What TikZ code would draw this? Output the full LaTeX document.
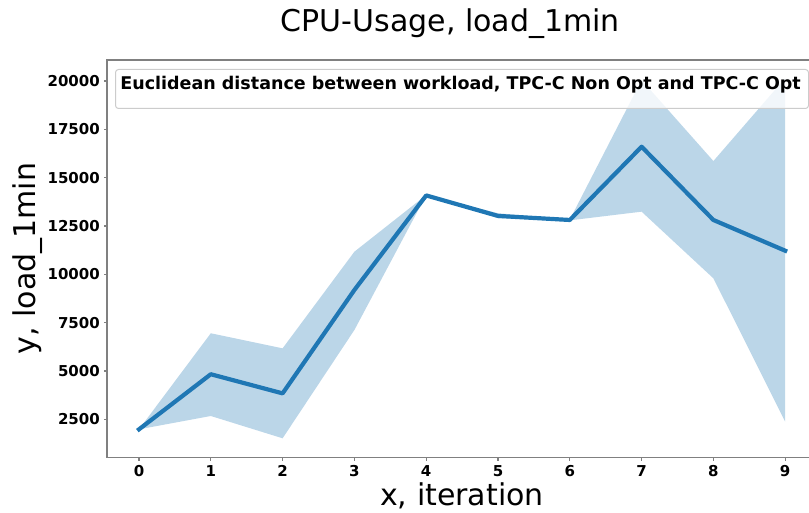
\documentclass[tikz,border=0pt]{standalone}
\usepackage{fontspec}
\setmainfont{DejaVu Sans}
\definecolor{mplblue}{HTML}{1F77B4}
\definecolor{spinegray}{HTML}{808080}
\definecolor{legedge}{HTML}{CCCCCC}
\begin{document}
\begin{tikzpicture}[x=1pt,y=-1pt,
  ticklab/.style={font=\fontsize{15}{15}\selectfont\bfseries, inner sep=0pt, text=black},
  axlab/.style={font=\fontsize{30}{30}\selectfont, inner sep=0pt, text=black},
  legtitle/.style={font=\fontsize{17.5}{17.5}\selectfont\bfseries, inner sep=0pt, text=black},
  spine/.style={draw=spinegray, line width=1.2pt},
  tickmark/.style={draw=spinegray, line width=1.1pt},
  band/.style={fill=mplblue, fill opacity=0.3},
  meanline/.style={draw=mplblue, line width=4.2pt, line join=round, line cap=rect},
  legbox/.style={draw=legedge, line width=1pt, fill=white, fill opacity=0.8, rounded corners=3pt}]
\useasboundingbox (0,0) rectangle (809,513);

% title
\node[axlab, anchor=base] (title) at (450.3,32) {CPU-Usage, load\_1min};

% data
\begin{scope}
  \clip (107,60) rectangle (809,457.3);
  \begin{scope}[shift={(139,467.6)}, x=71.8pt, y=19.33pt]
    \fill[band] (0,1.98) -- (1,6.95) -- (2,6.17) -- (3,11.17) -- (4,14.1) -- (5,13.16)
      -- (6,12.83) -- (7,20.05) -- (8,15.86) -- (9,20.15) -- (9,2.375) -- (8,9.79)
      -- (7,13.24) -- (6,12.79) -- (5,12.90) -- (4,14.1) -- (3,7.12) -- (2,1.516)
      -- (1,2.67) -- cycle;
    \draw[meanline] (0,1.98) -- (1,4.83) -- (2,3.84) -- (3,9.19) -- (4,14.08)
      -- (5,13.02) -- (6,12.81) -- (7,16.60) -- (8,12.81) -- (9,11.22);
  \end{scope}
\end{scope}

% spines
\coordinate (tl) at (107,60);
\coordinate (bl) at (107,457.3);
\coordinate (tr) at (809,60);
\coordinate (br) at (809,457.3);
\draw[spine] (tr) -- (tl) -- (bl) -- (br);

% y ticks
\foreach \v/\lab [count=\k] in {2.5/2500,5/5000,7.5/7500,10/10000,12.5/12500,15/15000,17.5/17500,20/20000}{
  \pgfmathsetmacro{\yy}{467.6-19.33*\v}
  \coordinate (yt\k) at (107,\yy);
  \coordinate (yo\k) at (103.5,\yy);
  \draw[tickmark] (yt\k) -- (yo\k);
  \node[ticklab, anchor=base east] (ylab\k) at (100,\yy+5.5) {\lab};
}
% x ticks
\foreach \i in {0,...,9}{
  \pgfmathsetmacro{\xx}{139+71.8*\i}
  \coordinate (xt\i) at (\xx,457.3);
  \coordinate (xo\i) at (\xx,461);
  \draw[tickmark] (xt\i) -- (xo\i);
  \node[ticklab, anchor=base] (xlab\i) at (\xx,476.3) {\i};
}

% axis labels
\node[axlab, anchor=base] (xlabel) at (462,505) {x, iteration};
\node[axlab, anchor=base, rotate=90] (ylabel) at (35,258.5) {y, load\_1min};

% legend
\node[legbox, minimum width=693pt, minimum height=39pt, anchor=north west, inner sep=0pt] (legend) at (115,69) {};
\node[legtitle, anchor=base west] (legtext) at (120.2,89.3) {Euclidean distance between workload, TPC-C Non Opt and TPC-C Opt};
\end{tikzpicture}
\end{document}
